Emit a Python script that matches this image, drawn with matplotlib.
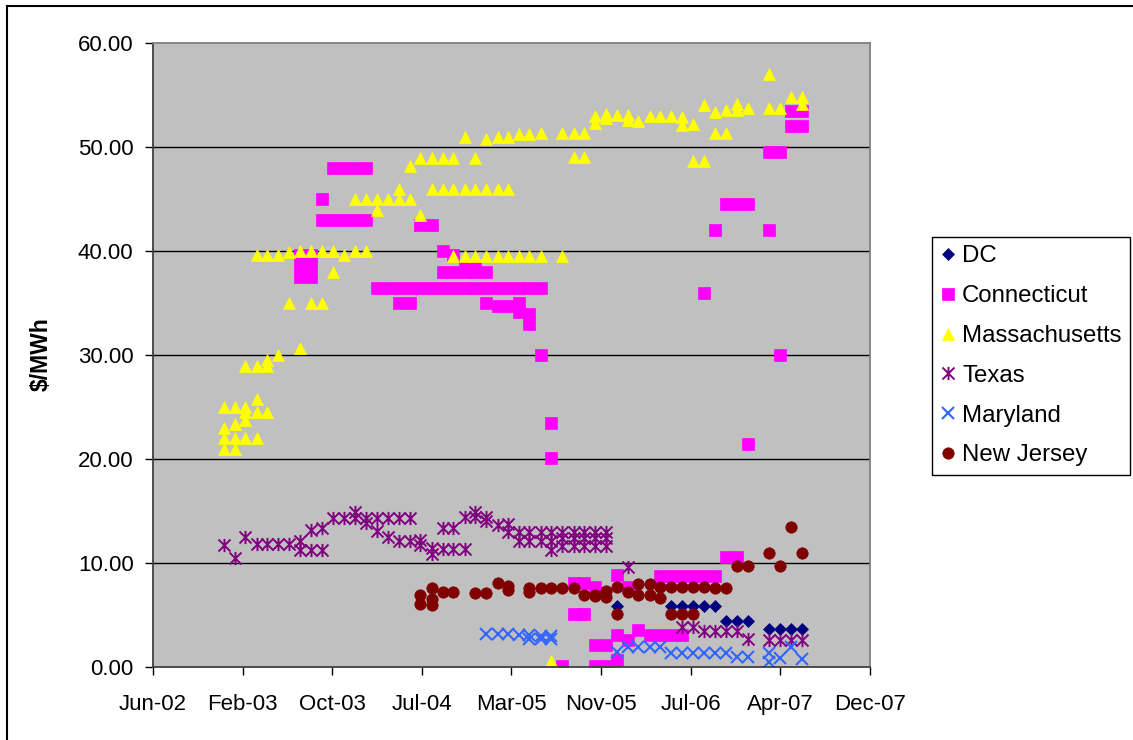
import pandas as pd
import matplotlib
matplotlib.use('Agg')
import matplotlib.pyplot as plt
import matplotlib.dates as mdates
from matplotlib.path import Path
from matplotlib.lines import Line2D

plt.rcParams['font.family'] = ['Liberation Sans', 'DejaVu Sans']

# Valeurs ($/MWh), une liste de valeurs par mois
dc_mois = ['2006-01', '2006-06', '2006-07', '2006-08', '2006-09', '2006-10', '2006-11',
           '2006-12', '2007-01', '2007-03', '2007-04', '2007-05', '2007-06']
dc_val = [[5.9], [5.9], [5.9], [5.9], [5.9], [5.9], [4.5], [4.5], [4.5],
          [3.65], [3.65], [3.65], [3.65]]

ct_mois = ['2003-08', '2003-09', '2003-10', '2003-11', '2003-12', '2004-01', '2004-02',
           '2004-03', '2004-04', '2004-05', '2004-06', '2004-07', '2004-08', '2004-09',
           '2004-10', '2004-11', '2004-12', '2005-01', '2005-02', '2005-03', '2005-04',
           '2005-05', '2005-06', '2005-07', '2005-08', '2005-09', '2005-10', '2005-11',
           '2005-12', '2006-01', '2006-02', '2006-03', '2006-04', '2006-05', '2006-06',
           '2006-07', '2006-08', '2006-09', '2006-10', '2006-11', '2006-12', '2007-01',
           '2007-03', '2007-04', '2007-05', '2007-06']
ct_val = [[39.6, 38.6, 37.5], [39.6, 38.6, 37.5], [45, 43], [48, 43], [48, 43], [48, 43],
          [48, 43], [36.5], [36.5], [36.5, 35], [36.5, 35], [42.5, 36.5], [42.5, 36.5],
          [40, 38, 36.5], [39.6, 38, 36.5], [38.5, 38, 36.5], [38.5, 38, 36.5],
          [38, 36.5, 35], [36.5, 34.7], [36.5, 34.7], [36.5, 35, 34.2], [36.5, 34, 33],
          [36.5, 30], [23.5, 20.1], [0.1], [8.1, 5.1], [8.1, 5.1], [7.7, 2.1, 0.1],
          [2.1, 0.1], [8.9, 3.1, 0.7], [7.75, 2.6], [3.6], [3.1], [8.8, 3.1], [8.8, 3.1],
          [8.8, 3.1], [8.8], [8.8, 36], [8.8, 42], [10.6, 44.5], [10.6, 44.5],
          [44.5, 21.5], [49.5, 42], [49.5, 30], [53.5, 52], [53.5, 52]]

ma_mois = ['2003-01', '2003-02', '2003-03', '2003-04', '2003-05', '2003-06', '2003-07',
           '2003-08', '2003-09', '2003-10', '2003-11', '2003-12', '2004-01', '2004-02',
           '2004-03', '2004-04', '2004-05', '2004-06', '2004-07', '2004-08', '2004-09',
           '2004-10', '2004-11', '2004-12', '2005-01', '2005-02', '2005-03', '2005-04',
           '2005-05', '2005-06', '2005-07', '2005-08', '2005-09', '2005-10', '2005-11',
           '2005-12', '2006-01', '2006-02', '2006-03', '2006-04', '2006-05', '2006-06',
           '2006-07', '2006-08', '2006-09', '2006-10', '2006-11', '2006-12', '2007-01',
           '2007-03', '2007-04', '2007-05', '2007-06']
ma_val = [[25, 23, 22, 21], [25, 23.4, 22, 21], [25, 24.5, 23.8, 22, 29],
          [25.8, 24.5, 22, 29, 39.6], [24.5, 29.5, 29, 39.6], [30, 39.6], [35, 39.9],
          [30.7, 40], [35, 40], [35, 40], [40, 38], [39.6], [40, 45], [40, 45], [45, 44],
          [45], [46, 45], [48.2, 45], [49, 43.5], [49, 46], [49, 46], [49, 46, 39.5],
          [51, 46, 39.5], [49, 46, 39.5], [50.8, 46, 39.5], [51, 46, 39.5], [51, 46, 39.5],
          [51.3, 39.5], [51.3, 39.5], [51.4, 39.5], [0.6], [51.4, 39.5], [51.4, 49.1],
          [51.4, 49.1], [53.0, 52.3], [53.2, 52.8], [53.1], [53.1, 52.6], [52.5], [53.0],
          [53.0], [53.0], [52.9, 52.1], [52.2, 48.7], [54.1, 48.7], [53.4, 51.4],
          [53.6, 51.4], [54.2, 53.6], [53.8], [57, 53.8], [53.8], [54.8], [54.8, 54.2]]

tx_mois = ['2003-01', '2003-02', '2003-03', '2003-04', '2003-05', '2003-06', '2003-07',
           '2003-08', '2003-09', '2003-10', '2003-11', '2003-12', '2004-01', '2004-02',
           '2004-03', '2004-04', '2004-05', '2004-06', '2004-07', '2004-08', '2004-09',
           '2004-10', '2004-11', '2004-12', '2005-01', '2005-02', '2005-03', '2005-04',
           '2005-05', '2005-06', '2005-07', '2005-08', '2005-09', '2005-10', '2005-11',
           '2005-12', '2006-02', '2006-07', '2006-08', '2006-09', '2006-10', '2006-11',
           '2006-12', '2007-01', '2007-03', '2007-04', '2007-05', '2007-06']
tx_val = [[11.8], [10.5], [12.5], [11.9], [11.9], [11.9], [11.9], [12.1, 11.3],
          [13.2, 11.3], [13.4, 11.3], [14.4], [14.4], [14.9, 14.4], [14.4, 13.9],
          [14.4, 13.1], [14.4, 12.5], [14.4, 12.1], [14.4, 12.1], [12.2, 11.8],
          [11.5, 10.9], [13.4, 11.4], [13.4, 11.4], [14.5, 11.4], [14.9, 14.5],
          [14.5, 14.1], [13.7], [13.8, 13.0], [13.0, 12.1], [13.0, 12.1], [13.0, 12.1],
          [13.0, 12.1, 11.3], [13.0, 12.4, 11.7], [13.0, 12.4, 11.7], [13.0, 12.4, 11.7],
          [13.0, 12.4, 11.7], [13.0, 12.4, 11.7], [9.6], [3.9], [3.9], [3.5], [3.5],
          [3.5], [3.5], [2.7], [2.6], [2.6], [2.6], [2.6]]

md_mois = ['2005-01', '2005-02', '2005-03', '2005-04', '2005-05', '2005-06', '2005-07',
           '2006-01', '2006-02', '2006-03', '2006-04', '2006-05', '2006-06', '2006-07',
           '2006-08', '2006-09', '2006-10', '2006-11', '2006-12', '2007-01', '2007-03',
           '2007-04', '2007-05', '2007-06']
md_val = [[3.2], [3.2], [3.2], [3.1], [3.1, 2.7], [3.0, 2.7], [3.0, 2.7], [1.5], [2.0],
          [2.0], [2.0], [2.0], [1.4], [1.4], [1.4], [1.4], [1.4], [1.4], [1.0], [1.0],
          [1.4, 0.55], [0.9], [2.0], [0.8]]

nj_mois = ['2004-07', '2004-08', '2004-09', '2004-10', '2004-12', '2005-01', '2005-02',
           '2005-03', '2005-05', '2005-06', '2005-07', '2005-08', '2005-09', '2005-10',
           '2005-11', '2005-12', '2006-01', '2006-02', '2006-03', '2006-04', '2006-05',
           '2006-06', '2006-07', '2006-08', '2006-09', '2006-10', '2006-11', '2006-12',
           '2007-01', '2007-03', '2007-04', '2007-05', '2007-06']
nj_val = [[7.0, 6.1], [7.6, 6.6, 6.0], [7.2], [7.2], [7.1], [7.1], [8.1], [7.8, 7.4],
          [7.6, 7.2], [7.6], [7.6], [7.6], [7.6], [7.0], [7.0, 6.9], [7.3, 6.8],
          [7.75, 5.1], [7.2], [8.0, 7.0], [8.0, 7.0], [7.7, 6.7], [7.75, 5.1], [7.75, 5.1],
          [7.75, 5.1], [7.75], [7.6], [7.6], [9.7], [9.7], [11.0], [9.7], [13.5], [11.0]]

noms = ['DC', 'Connecticut', 'Massachusetts', 'Texas', 'Maryland', 'New Jersey']


def aplatir(mois, valeurs):
    # une date par valeur
    x, y = [], []
    for m, vals in zip(mois, valeurs):
        for v in vals:
            x.append(pd.Timestamp(m + '-01'))
            y.append(v)
    return mdates.date2num(x), y


# marqueur "étoile" d'Excel : un X avec une barre verticale
etoile = Path([(-1, -1), (1, 1), (-1, 1), (1, -1), (0, -1.1), (0, 1.1)],
              [Path.MOVETO, Path.LINETO, Path.MOVETO, Path.LINETO, Path.MOVETO, Path.LINETO])

styles = [
    dict(marker='D', color='#000080', ms=5.8, mew=0.5),
    dict(marker='s', color='#FF00FF', ms=8, mew=0.5),
    dict(marker='^', color='#FFFF00', ms=9, mew=0.5),
    dict(marker=etoile, color='#800080', ms=9.5, mew=1.4, mfc='none'),
    dict(marker='x', color='#3366FF', ms=8.5, mew=1.5),
    dict(marker='o', color='#800000', ms=8.2, mew=0.5),
]
series = [(dc_mois, dc_val), (ct_mois, ct_val), (ma_mois, ma_val),
          (tx_mois, tx_val), (md_mois, md_val), (nj_mois, nj_val)]

fig = plt.figure(figsize=(11.33, 7.40), dpi=100)
ax = fig.add_axes([153 / 1133, 1 - 667.3 / 740, (870 - 153) / 1133, 624 / 740])
ax.set_facecolor('#C0C0C0')

for (mois, valeurs), nom, st in zip(series, noms, styles):
    x, y = aplatir(mois, valeurs)
    c = st.pop('color')
    ax.plot(x, y, linestyle='none', color=c, mec=c, label=nom, **st)

debut = pd.Timestamp('2002-06-16')
ticks = [debut + pd.Timedelta(days=250 * k) for k in range(9)]
ax.set_xlim(mdates.date2num(ticks[0]), mdates.date2num(ticks[-1]))
ax.set_xticks(mdates.date2num(ticks))
ax.xaxis.set_major_formatter(mdates.DateFormatter('%b-%y'))

ax.set_ylim(0, 60)
ax.set_yticks(range(0, 61, 10))
ax.yaxis.set_major_formatter(matplotlib.ticker.FormatStrFormatter('%.2f'))
for v in range(10, 60, 10):
    ax.axhline(v, color='black', lw=1, zorder=0.5)

ax.tick_params(axis='both', direction='out', length=6, width=1, colors='black', labelsize=16)
ax.tick_params(axis='y', pad=8)
ax.tick_params(axis='x', pad=13)
for s in ['left', 'bottom']:
    ax.spines[s].set_color('#404040')
    ax.spines[s].set_linewidth(1.3)
for s in ['top', 'right']:
    ax.spines[s].set_color('#808080')
    ax.spines[s].set_linewidth(1.3)

ax.set_ylabel('$/MWh', fontsize=16.5, fontweight='bold')
ax.yaxis.set_label_coords(-(153 - 53) / 717, (667.3 - 354) / 624)

leg = ax.legend(loc='upper left', bbox_to_anchor=(932 / 1133, 1 - 237 / 740),
                bbox_transform=fig.transFigure, borderaxespad=0, fontsize=17.3,
                frameon=True, fancybox=False, framealpha=1, edgecolor='black',
                handlelength=0.6, handletextpad=0.3, borderpad=0.35,
                labelspacing=0.74, numpoints=1)
leg.get_frame().set_linewidth(1)

# bordure de la zone de graphique
fig.add_artist(Line2D([7 / 1133, 7 / 1133], [0, 1 - 6 / 740], color='black', lw=1.5,
                      transform=fig.transFigure))
fig.add_artist(Line2D([7 / 1133, 1], [1 - 6 / 740, 1 - 6 / 740], color='black', lw=1.5,
                      transform=fig.transFigure))

fig.savefig('out.png', dpi=100)
